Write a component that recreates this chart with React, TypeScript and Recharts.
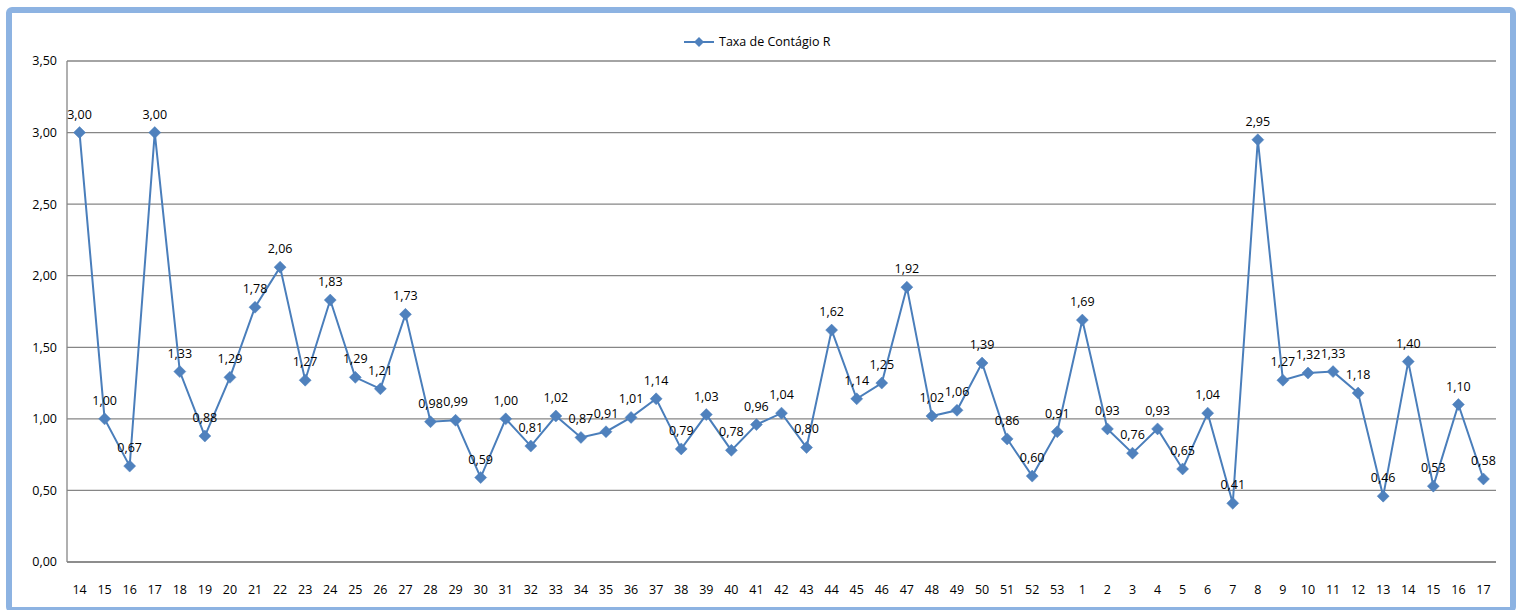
import { LineChart, Line, XAxis, YAxis, CartesianGrid, LabelList } from 'recharts';

// semana epidemiológica (2020: 14-53, 2021: 1-17)
const weeks = [
  '14', '15', '16', '17', '18', '19', '20', '21', '22', '23', '24', '25', '26', '27',
  '28', '29', '30', '31', '32', '33', '34', '35', '36', '37', '38', '39', '40', '41',
  '42', '43', '44', '45', '46', '47', '48', '49', '50', '51', '52', '53',
  '1', '2', '3', '4', '5', '6', '7', '8', '9', '10', '11', '12', '13', '14', '15', '16', '17',
];

const taxaR = [
  3.0, 1.0, 0.67, 3.0, 1.33, 0.88, 1.29, 1.78, 2.06, 1.27, 1.83, 1.29, 1.21, 1.73,
  0.98, 0.99, 0.59, 1.0, 0.81, 1.02, 0.87, 0.91, 1.01, 1.14, 0.79, 1.03, 0.78, 0.96,
  1.04, 0.8, 1.62, 1.14, 1.25, 1.92, 1.02, 1.06, 1.39, 0.86, 0.6, 0.91,
  1.69, 0.93, 0.76, 0.93, 0.65, 1.04, 0.41, 2.95, 1.27, 1.32, 1.33, 1.18, 0.46, 1.4, 0.53, 1.1, 0.58,
];

const yTicks = [0, 0.5, 1, 1.5, 2, 2.5, 3, 3.5];

const data = weeks.map((w, i) => ({ idx: i, week: w, r: taxaR[i] }));

const LINE = '#4a7ebb';
const MARK = '#4f81bd';
const FONT = '"Open Sans", sans-serif';

const fmt = (v: number) => v.toFixed(2).replace('.', ',');

function Diamond(props: any) {
  const { cx, cy } = props;
  if (cx == null || cy == null) return null;
  const s = 6;
  return (
    <path
      d={`M${cx},${cy - s} L${cx + s},${cy} L${cx},${cy + s} L${cx - s},${cy} Z`}
      fill={MARK}
      stroke={MARK}
      strokeWidth={0.5}
    />
  );
}

export default function App() {
  return (
    <div style={{ position: 'absolute', left: 0, top: 0, width: 1521, height: 610, background: '#fff' }}>
      <div
        style={{
          position: 'absolute',
          left: 6,
          top: 7,
          width: 1510,
          height: 606,
          border: '6px solid #8db3e2',
          borderRadius: 6,
          boxSizing: 'border-box',
        }}
      />
      <div
        style={{
          position: 'absolute',
          left: 684,
          top: 33,
          display: 'flex',
          alignItems: 'center',
          fontFamily: FONT,
          fontSize: 12.5,
          color: '#000',
        }}
      >
        <svg width={30} height={12} style={{ marginRight: 5 }}>
          <line x1={0} y1={6} x2={30} y2={6} stroke={LINE} strokeWidth={2} />
          <path d="M15,1 L20,6 L15,11 L10,6 Z" fill={MARK} />
        </svg>
        Taxa de Contágio R
      </div>
      <LineChart
        width={1521}
        height={610}
        data={data}
        margin={{ top: 61, right: 25, bottom: 18, left: 7 }}
        style={{ position: 'absolute', left: 0, top: 0 }}
      >
        <CartesianGrid vertical={false} stroke="#868686" strokeWidth={1.3} />
        <XAxis
          dataKey="idx"
          type="category"
          scale="band"
          tickFormatter={(i: number) => weeks[i]}
          interval={0}
          tickLine={false}
          tickSize={0}
          tickMargin={23}
          height={30}
          stroke="#868686"
          strokeWidth={1.3}
          tick={{ fill: '#000', fontSize: 12.5, fontFamily: FONT }}
        />
        <YAxis
          domain={[0, 3.5]}
          ticks={yTicks}
          tickFormatter={fmt}
          tickLine={false}
          tickSize={0}
          tickMargin={10}
          width={60}
          stroke="#868686"
          strokeWidth={1.3}
          tick={{ fill: '#000', fontSize: 12.5, fontFamily: FONT }}
        />
        <Line
          dataKey="r"
          stroke={LINE}
          strokeWidth={2}
          dot={<Diamond />}
          activeDot={false}
          isAnimationActive={false}
        >
          <LabelList
            dataKey="r"
            position="top"
            offset={14}
            formatter={(v: any) => fmt(Number(v))}
            style={{ fill: '#000', fontSize: 12.5, fontFamily: FONT }}
          />
        </Line>
      </LineChart>
    </div>
  );
}
